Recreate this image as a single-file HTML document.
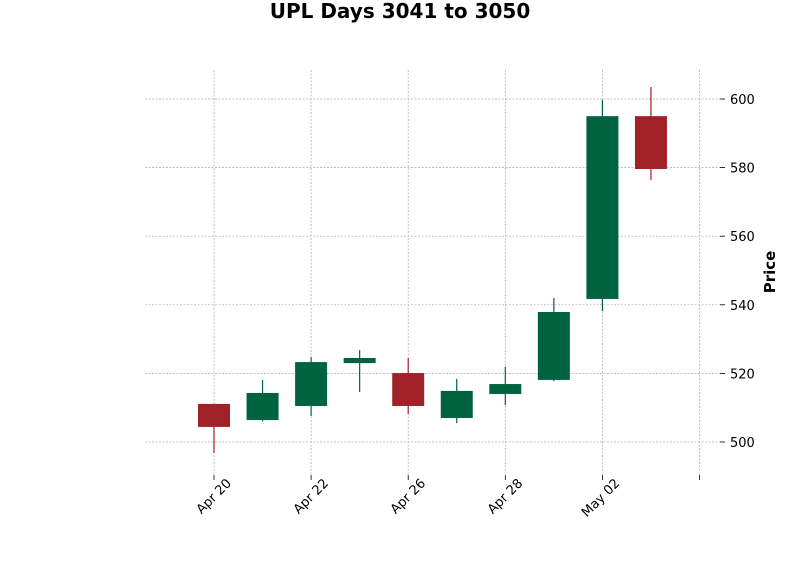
<!DOCTYPE html>
<html><head><meta charset="utf-8"><style>
body{margin:0;background:#fff;font-family:"Liberation Sans","DejaVu Sans",sans-serif;}
</style></head><body>
<svg id="chart" width="800" height="575" xmlns="http://www.w3.org/2000/svg">
<rect width="800" height="575" fill="#fff"/>
<text x="400" y="18" text-anchor="middle" font-size="20" font-weight="bold" font-family="DejaVu Sans, sans-serif">UPL Days 3041 to 3050</text>
<text transform="translate(775,272) rotate(-90)" text-anchor="middle" font-size="15" font-weight="bold" font-family="DejaVu Sans, sans-serif">Price</text>
<g id="grid"></g><g id="axes"></g><g id="candles"></g>
</svg>
<script>
const opens=[511.1,506.4,510.5,523.0,520.1,507.0,514.0,518.1,541.7,595.0];
const closes=[504.4,514.3,523.3,524.5,510.5,514.9,516.9,537.9,595.0,579.6];
const highs=[511.2,518.1,524.8,526.8,524.5,518.4,521.9,542.0,599.7,603.5];
const lows=[496.8,506.0,507.6,514.6,508.2,505.5,510.8,517.8,538.2,576.4];
const yTicks=[500,520,540,560,580,600];
const xTickIdx=[0,2,4,6,8,10];
const xTickLabels=["Apr 20","Apr 22","Apr 26","Apr 28","May 02",""];
const NS="http://www.w3.org/2000/svg";
const xs=i=>214+i*48.55;
const ys=v=>442-(v-500)*3.43;
function mk(tag,attrs,parent){const e=document.createElementNS(NS,tag);for(const k in attrs)e.setAttribute(k,attrs[k]);parent.appendChild(e);return e;}
const grid=document.getElementById('grid'),axes=document.getElementById('axes'),cg=document.getElementById('candles');
yTicks.forEach(v=>{
 const g=mk('line',{x1:145,x2:720,y1:ys(v),y2:ys(v),stroke:'#aaa','stroke-width':0.7,'stroke-dasharray':'2,1.5'},grid);
 
 
 mk('line',{x1:720,x2:725,y1:ys(v),y2:ys(v),stroke:'#000','stroke-width':0.8},axes);
 const t=mk('text',{x:730,y:ys(v)+5,'font-size':13,'font-family':'DejaVu Sans, sans-serif'},axes);
 t.textContent=v;
 
 
});
xTickIdx.forEach((i,k)=>{
 const x=xs(i);
 const g=mk('line',{x1:x,x2:x,y1:70,y2:475,stroke:'#aaa','stroke-width':0.7,'stroke-dasharray':'2,1.5'},grid);
 
 
 mk('line',{x1:x,x2:x,y1:475,y2:480,stroke:'#000','stroke-width':0.8},axes);
 if(xTickLabels[k]){
  const t=mk('text',{transform:`translate(${x+18},${484}) rotate(-45)`,'text-anchor':'end','font-size':13,'font-family':'DejaVu Sans, sans-serif'},axes);
  t.textContent=xTickLabels[k];
  
  
 }
});
opens.forEach((o,i)=>{
 const c=closes[i],col=c>=o?'#006340':'#a02128',x=xs(i);
 const w=mk('line',{x1:x,x2:x,y1:ys(highs[i]),y2:ys(lows[i]),stroke:col,'stroke-width':1.2},cg);
 
 
 const top=ys(Math.max(o,c)),bot=ys(Math.min(o,c));
 const r=mk('rect',{x:x-16,y:top,width:32,height:Math.max(bot-top,1),fill:col},cg);
 
 
});
</script>
</body></html>
